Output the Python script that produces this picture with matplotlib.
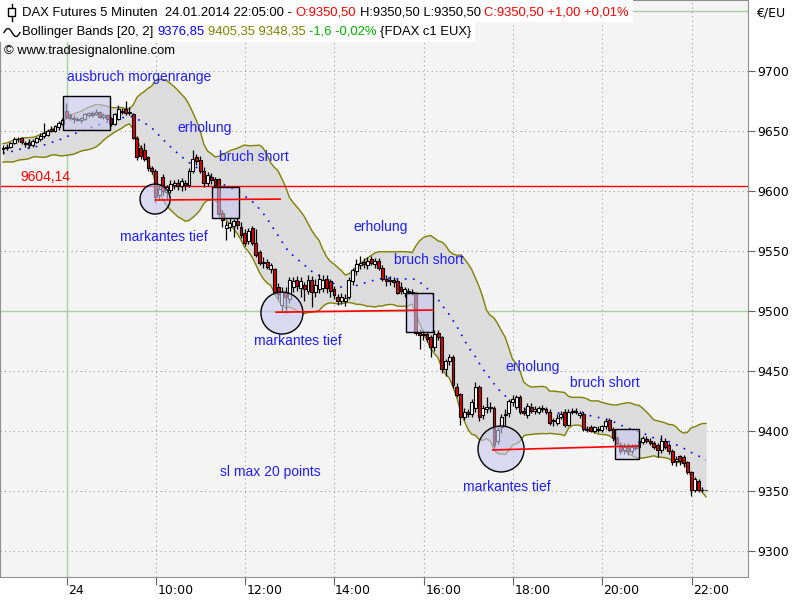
import numpy as np
import pandas as pd
import matplotlib
matplotlib.use("Agg")
import matplotlib.pyplot as plt
from matplotlib.patches import Rectangle, Ellipse
from matplotlib.lines import Line2D
from matplotlib.transforms import blended_transform_factory

plt.rcParams['font.family'] = ['Liberation Sans', 'DejaVu Sans']

W, H = 800, 600

########### DATA (5 min bars, FDAX 24.01.2014)
opens = [
    9635, 9636, 9637, 9640, 9643, 9644, 9640, 9641, 9638, 9641,
    9643, 9646, 9647, 9652, 9650, 9653, 9656, 9667, 9663, 9661,
    9660, 9659, 9660, 9663, 9665, 9664, 9666, 9662, 9663, 9661,
    9656, 9660, 9667, 9668, 9665, 9664, 9644, 9636, 9634, 9628,
    9619, 9617, 9597, 9612, 9599, 9601, 9605, 9607, 9604, 9607,
    9605, 9617, 9628, 9626, 9617, 9607, 9612, 9610, 9610, 9582,
    9569, 9570, 9571, 9575, 9570, 9565, 9558, 9569, 9557, 9549,
    9540, 9541, 9535, 9535, 9520, 9505, 9516, 9510, 9520, 9526,
    9519, 9522, 9517, 9526, 9516, 9518, 9519, 9527, 9525, 9518,
    9512, 9508, 9508, 9512, 9525, 9533, 9538, 9541, 9538, 9543,
    9539, 9542, 9536, 9527, 9525, 9526, 9525, 9520, 9515, 9517,
    9516, 9515, 9482, 9481, 9481, 9478, 9470, 9482, 9478, 9452,
    9458, 9462, 9437, 9431, 9412, 9416, 9414, 9419, 9437, 9413,
    9418, 9420, 9419, 9392, 9403, 9413, 9415, 9424, 9420, 9428,
    9417, 9413, 9420, 9417, 9416, 9419, 9418, 9416, 9408, 9407,
    9412, 9416, 9405, 9416, 9417, 9413, 9414, 9402, 9403, 9400,
    9402, 9401, 9404, 9409, 9402, 9394, 9388, 9384, 9387, 9383,
    9387, 9387, 9391, 9393, 9392, 9390, 9388, 9384, 9392, 9388,
    9383, 9375, 9379, 9378, 9374, 9366, 9351, 9358, 9351, 9350.5,
]
highs = [
    9638, 9639, 9641, 9645, 9645, 9645, 9642, 9643, 9643, 9645,
    9648, 9657, 9652, 9654, 9655, 9658, 9661, 9673, 9665, 9663,
    9662, 9662, 9665, 9666, 9667, 9668, 9667, 9665, 9664, 9662,
    9665, 9672, 9669, 9675, 9670, 9665, 9646, 9638, 9640, 9629,
    9621, 9618, 9605, 9614, 9605, 9609, 9609, 9610, 9611, 9609,
    9619, 9634, 9631, 9629, 9620, 9616, 9615, 9612, 9611, 9584,
    9575, 9578, 9577, 9578, 9574, 9568, 9569, 9571, 9568, 9551,
    9545, 9543, 9540, 9536, 9523, 9520, 9520, 9528, 9528, 9529,
    9528, 9524, 9530, 9529, 9527, 9531, 9530, 9530, 9527, 9521,
    9514, 9515, 9514, 9528, 9536, 9543, 9546, 9544, 9545, 9546,
    9544, 9544, 9538, 9530, 9529, 9528, 9527, 9524, 9520, 9519,
    9518, 9516, 9485, 9484, 9483, 9480, 9484, 9484, 9479, 9460,
    9464, 9463, 9440, 9432, 9419, 9418, 9427, 9441, 9438, 9422,
    9428, 9424, 9421, 9403, 9414, 9418, 9427, 9430, 9430, 9430,
    9420, 9423, 9423, 9421, 9421, 9422, 9420, 9418, 9411, 9414,
    9417, 9418, 9418, 9419, 9419, 9417, 9416, 9404, 9405, 9404,
    9404, 9405, 9410, 9411, 9403, 9396, 9391, 9390, 9390, 9389,
    9389, 9394, 9396, 9396, 9394, 9392, 9390, 9397, 9394, 9390,
    9385, 9379, 9380, 9380, 9375, 9367, 9362, 9360, 9353, 9350.5,
]
lows = [
    9631, 9634, 9636, 9639, 9641, 9639, 9637, 9636, 9637, 9640,
    9642, 9644, 9646, 9649, 9649, 9651, 9655, 9660, 9659, 9657,
    9658, 9657, 9659, 9662, 9662, 9663, 9661, 9660, 9659, 9654,
    9655, 9659, 9664, 9663, 9663, 9643, 9626, 9627, 9625, 9617,
    9614, 9591, 9593, 9597, 9593, 9598, 9602, 9601, 9600, 9601,
    9603, 9615, 9622, 9615, 9603, 9604, 9606, 9603, 9578, 9570,
    9559, 9567, 9562, 9568, 9561, 9554, 9556, 9555, 9545, 9538,
    9536, 9535, 9532, 9514, 9510, 9499, 9498, 9507, 9516, 9517,
    9512, 9508, 9514, 9503, 9512, 9515, 9516, 9515, 9512, 9510,
    9505, 9506, 9504, 9510, 9522, 9530, 9535, 9536, 9535, 9538,
    9536, 9534, 9525, 9521, 9522, 9520, 9514, 9514, 9512, 9514,
    9513, 9480, 9468, 9476, 9474, 9462, 9467, 9476, 9448, 9446,
    9455, 9436, 9428, 9405, 9409, 9412, 9412, 9416, 9408, 9410,
    9415, 9416, 9386, 9389, 9398, 9404, 9412, 9421, 9418, 9414,
    9413, 9411, 9415, 9414, 9414, 9416, 9414, 9405, 9404, 9405,
    9410, 9403, 9404, 9414, 9414, 9411, 9400, 9399, 9399, 9398,
    9399, 9399, 9402, 9400, 9392, 9388, 9381, 9381, 9380, 9381,
    9384, 9386, 9389, 9390, 9388, 9385, 9378, 9382, 9385, 9381,
    9372, 9371, 9372, 9370, 9364, 9346, 9349, 9349, 9349, 9350.5,
]
closes = [
    9636, 9637, 9640, 9643, 9643, 9641, 9639, 9638, 9642, 9644,
    9646, 9648, 9650, 9650, 9654, 9657, 9659, 9662, 9661, 9660,
    9659, 9661, 9664, 9665, 9663, 9666, 9662, 9663, 9660, 9656,
    9664, 9668, 9666, 9665, 9666, 9644, 9628, 9629, 9627, 9619,
    9617, 9595, 9602, 9600, 9603, 9606, 9607, 9604, 9608, 9605,
    9617, 9627, 9625, 9617, 9607, 9613, 9609, 9605, 9581, 9576,
    9572, 9573, 9575, 9572, 9563, 9557, 9567, 9557, 9547, 9540,
    9541, 9537, 9538, 9516, 9514, 9516, 9512, 9526, 9525, 9521,
    9525, 9518, 9526, 9516, 9522, 9527, 9526, 9519, 9517, 9513,
    9508, 9512, 9511, 9526, 9534, 9539, 9540, 9539, 9542, 9540,
    9542, 9536, 9527, 9525, 9526, 9524, 9515, 9517, 9518, 9516,
    9515, 9482, 9480, 9480, 9477, 9470, 9481, 9478, 9452, 9458,
    9462, 9438, 9430, 9412, 9416, 9414, 9424, 9437, 9412, 9419,
    9420, 9419, 9388, 9401, 9412, 9414, 9425, 9427, 9428, 9416,
    9415, 9421, 9417, 9418, 9419, 9418, 9416, 9407, 9409, 9411,
    9414, 9405, 9416, 9417, 9416, 9415, 9402, 9401, 9400, 9403,
    9401, 9404, 9408, 9401, 9394, 9390, 9383, 9387, 9383, 9387,
    9386, 9392, 9394, 9392, 9390, 9387, 9384, 9392, 9387, 9383,
    9374, 9377, 9375, 9373, 9366, 9351, 9360, 9351, 9350.5, 9350.5,
]
# closes before the first visible bar, only used to seed the 20 bar band
warmup_closes = [9628, 9631, 9626, 9624, 9629, 9633, 9630, 9627, 9632, 9636,
                 9634, 9630, 9628, 9633, 9637, 9635, 9632, 9636, 9638]

time_ticks = [17.2, 41.1, 65.1, 88.9, 113.2, 137.1, 161.0, 185.2]
time_labels = ['24', '10:00', '12:00', '14:00', '16:00', '18:00', '20:00', '22:00']
price_ticks = [9300, 9350, 9400, 9450, 9500, 9550, 9600, 9650, 9700]

level = 9604.14
green_levels = [9500, 9750]

# (x0, y0, x1, y1) in bar / price units
boxes = [(16.1, 9650.8, 28.8, 9679.2), (56.2, 9577.5, 63.4, 9603.3),
         (108.3, 9482.5, 115.6, 9515.0), (164.5, 9376.7, 171.0, 9401.7)]
# (centre bar, centre price, width bars, height points)
circles = [(40.9, 9593.3, 8.1, 25.0), (75.0, 9498.3, 11.3, 35.0),
           (133.9, 9385.0, 12.4, 38.3)]
support_lines = [((41.0, 9592.5), (74.5, 9593.3)), ((73.4, 9499.0), (115.6, 9500.8)),
                 ((131.7, 9384.2), (170.7, 9387.5))]
notes = [('ausbruch morgenrange', 17.2, 9695.0), ('erholung', 46.8, 9652.5),
         ('bruch short', 58.1, 9628.0), ('markantes tief', 31.5, 9561.7),
         ('erholung', 94.1, 9570.0), ('bruch short', 105.1, 9542.5),
         ('markantes tief', 67.5, 9475.0), ('erholung', 135.0, 9453.0),
         ('bruch short', 152.4, 9440.0), ('markantes tief', 123.7, 9353.0),
         ('sl max 20 points', 58.3, 9366.0)]

########### BOLLINGER BANDS [20, 2]
s = pd.Series(warmup_closes + closes, dtype=float)
n0 = len(warmup_closes)
mid = s.rolling(20).mean().to_numpy()[n0:]
sd = s.rolling(20).std(ddof=0).to_numpy()[n0:]
upper = mid + 2 * sd
lower = mid - 2 * sd
idx = np.arange(len(closes))

########### FIGURE
fig = plt.figure(figsize=(8, 6), dpi=100)
ax = fig.add_axes([0, 23 / H, 748 / W, 577 / H])
ax.set_facecolor('#f4f4f4')
ax.set_xlim(-0.8, 200.3)
ax.set_ylim(9278.3, 9759.2)

for p in price_ticks:
    ax.axhline(p, color='#a0a0a0', ls=(0, (1, 3)), lw=0.8, zorder=0.5)
for t in time_ticks[1:]:
    ax.axvline(t, color='#a0a0a0', ls=(0, (1, 3)), lw=0.8, zorder=0.5)
ax.axvline(time_ticks[0], color='#a6d0a0', lw=1, zorder=0.6)
for g in green_levels:
    ax.axhline(g, color='#a6d0a0', lw=1, zorder=0.6)

ax.fill_between(idx, lower, upper, color='#dcdcdc', lw=0, zorder=1)
ax.plot(idx, upper, color='#808000', lw=1, zorder=2)
ax.plot(idx, lower, color='#808000', lw=1, zorder=2)
ax.plot(idx, mid, color='#0000ff', lw=1.2, ls=(0, (1, 4)), zorder=2)

ax.axhline(level, color='#ff0000', lw=1, zorder=2.5)
ax.text(4.6, 9611.7, '9604,14', color='#ff0000', fontsize=10, va='center', ha='left')

########### CANDLES
o = np.array(opens, dtype=float)
c = np.array(closes, dtype=float)
hi = np.array(highs, dtype=float)
lo = np.array(lows, dtype=float)
ax.vlines(idx, lo, hi, color='black', lw=0.9, zorder=3)
colors = np.where(c >= o, 'white', '#e00000')
ax.bar(idx, np.abs(c - o), bottom=np.minimum(o, c), width=0.78, color=colors,
       edgecolor='black', linewidth=0.8, zorder=4)

########### DRAWINGS
for x0, y0, x1, y1 in boxes:
    ax.add_patch(Rectangle((x0, y0), x1 - x0, y1 - y0, facecolor=(0.78, 0.78, 0.94, 0.6),
                           edgecolor='black', lw=1, zorder=5))
for cx, cy, w, h in circles:
    ax.add_patch(Ellipse((cx, cy), w, h, facecolor=(0.78, 0.78, 0.94, 0.6),
                         edgecolor='black', lw=1, zorder=5))
for (x0, y0), (x1, y1) in support_lines:
    ax.plot([x0, x1], [y0, y1], color='#ff0000', lw=1.2, zorder=6)
for txt, x, y in notes:
    ax.text(x, y, txt, color='#1e1eff', fontsize=10, va='center', ha='left', zorder=7)

########### AXES
for sp in ax.spines.values():
    sp.set_color('#909090')
ax.yaxis.tick_right()
ax.set_yticks(price_ticks)
ax.set_yticklabels([str(p) for p in price_ticks], fontfamily='DejaVu Sans', fontsize=9)
ax.tick_params(axis='y', length=5, color='#606060', pad=2)
ax.set_xticks(time_ticks)
ax.set_xticklabels([])
ax.tick_params(axis='x', length=6, color='#606060')
tr = blended_transform_factory(ax.transData, ax.transAxes)
for t, lab in zip(time_ticks, time_labels):
    ax.text(t + 0.4, -0.012, lab, transform=tr, fontfamily='DejaVu Sans', fontsize=9,
            va='top', ha='left', clip_on=False)

fig.text(756 / W, 1 - 13 / H, '€/EU', fontsize=9, fontfamily='DejaVu Sans', va='center')

########### HEADER
renderer = fig.canvas.get_renderer()


def row(x_px, y_px, parts, size=9.4):
    x = x_px
    gap = 0.278 * size * 100 / 72
    for s_, col in parts:
        t = fig.text(x / W, 1 - y_px / H, s_, color=col, fontsize=size, va='center', ha='left', zorder=4)
        x = t.get_window_extent(renderer).x1 + gap
    return x


end1 = row(22, 12.5, [('DAX Futures 5 Minuten  24.01.2014 22:05:00 -', 'black'),
                     ('O:9350,50', '#ff0000'), ('H:9350,50 L:9350,50', 'black'),
                     ('C:9350,50 +1,00 +0,01%', '#ff0000')])
end2 = row(22, 31.5, [('Bollinger Bands [20, 2]', 'black'), ('9376,85', '#0000ff'),
                     ('9405,35 9348,35', '#808000'), ('-1,6 -0,02%', '#00b000'),
                     ('{FDAX c1 EUX}', 'black')])
row(4, 51, [('© www.tradesignalonline.com', 'black')])
fig.add_artist(Rectangle((0, 1 - 22 / H), end1 / W, 22 / H, transform=fig.transFigure,
                         facecolor='white', edgecolor='none', zorder=2))
fig.add_artist(Rectangle((0, 1 - 42 / H), end2 / W, 20 / H, transform=fig.transFigure,
                         facecolor='white', edgecolor='none', zorder=2))
# candle icon and wave icon
fig.add_artist(Line2D([11.5 / W, 11.5 / W], [1 - 4 / H, 1 - 21 / H], transform=fig.transFigure,
                      color='black', lw=1, zorder=4))
fig.add_artist(Rectangle((8 / W, 1 - 16 / H), 7 / W, 8 / H, transform=fig.transFigure,
                         facecolor='white', edgecolor='black', lw=1, zorder=5))
wx = np.linspace(4, 20, 40)
wy = 32.5 - 4 * np.sin((wx - 4) / 16 * 2 * np.pi)
fig.add_artist(Line2D(wx / W, 1 - wy / H, transform=fig.transFigure, color='black', lw=1, zorder=4))

fig.savefig('out.png', dpi=100)
